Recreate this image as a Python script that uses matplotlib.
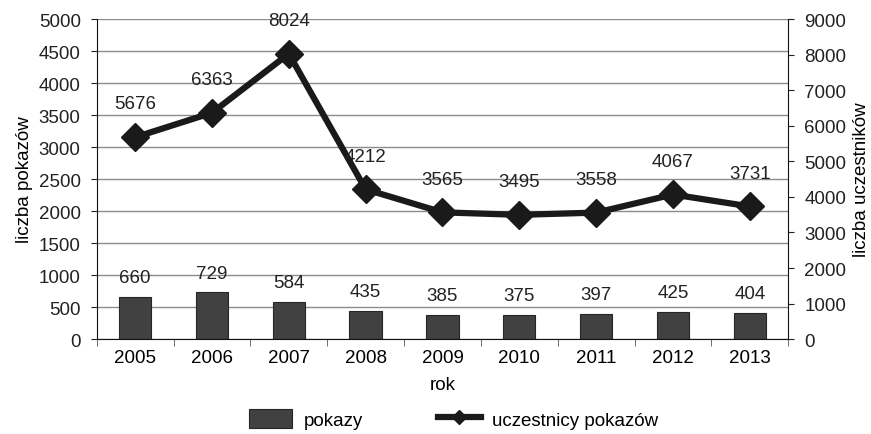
import numpy as np
import matplotlib.pyplot as plt
from matplotlib.lines import Line2D

plt.rcParams['font.family'] = ['Liberation Sans', 'DejaVu Sans']
plt.rcParams['font.size'] = 13.5

years = ['2005', '2006', '2007', '2008', '2009', '2010', '2011', '2012', '2013']
pokazy = [660, 729, 584, 435, 385, 375, 397, 425, 404]
uczestnicy = [5676, 6363, 8024, 4212, 3565, 3495, 3558, 4067, 3731]

x = np.arange(len(years))

fig = plt.figure(figsize=(8.71, 4.35), dpi=100)
ax = fig.add_axes([0.111, 0.218, 0.794, 0.736])
ax2 = ax.twinx()

# bars on the left axis
ax.set_axisbelow(True)
ax.yaxis.grid(True, color='#8c8c8c', linewidth=1)
bars = ax.bar(x, pokazy, width=0.42, color='#414141', edgecolor='#262626',
              linewidth=0.8, label='pokazy', zorder=2)
for xi, v in zip(x, pokazy):
    ax.annotate(str(v), (xi, v), xytext=(0, 14), textcoords='offset points',
                ha='center', va='center', color='#222222')

ax.set_xlim(-0.5, len(years) - 0.5)
ax.set_ylim(0, 5000)
ax.set_yticks(np.arange(0, 5001, 500))
ax.set_xticks(x)
ax.set_xticklabels(years)
ax.set_xticks(np.arange(-0.5, len(years)), minor=True)
ax.tick_params(axis='x', which='major', length=0, pad=7)
ax.tick_params(axis='x', which='minor', length=5, color='#555555')
ax.tick_params(axis='y', length=4.5, pad=7, colors='#222222')
ax.set_xlabel('rok', labelpad=7)
ax.set_ylabel('liczba pokazów', labelpad=4)

# line on the right axis
line, = ax2.plot(x, uczestnicy, color='#1a1a1a', linewidth=4.5, marker='D',
                 markersize=14, label='uczestnicy pokazów', zorder=3)
for xi, v in zip(x, uczestnicy):
    ax2.annotate(str(v), (xi, v), xytext=(0, 24), textcoords='offset points',
                 ha='center', va='center', color='#222222')
ax2.set_ylim(0, 9000)
ax2.set_yticks(np.arange(0, 9001, 1000))
ax2.tick_params(axis='y', length=4.5, pad=7, colors='#222222')
ax2.set_ylabel('liczba uczestników', rotation=90, labelpad=5)

for a in (ax, ax2):
    a.spines['top'].set_visible(False)
    a.spines['left'].set_color('#111111')
    a.spines['right'].set_color('#111111')
    a.spines['bottom'].set_color('#111111')
ax2.spines['left'].set_visible(False)
ax2.spines['bottom'].set_visible(False)
ax.spines['right'].set_visible(False)

legend_line = Line2D([], [], color='#1a1a1a', linewidth=4.5, marker='D',
                     markersize=7)
fig.legend([bars, legend_line], ['pokazy', 'uczestnicy pokazów'],
           loc='center', bbox_to_anchor=(0.521, 0.035), ncol=2,
           frameon=False, handlelength=2.3, handleheight=1.2,
           columnspacing=4.0, handletextpad=0.6)

fig.savefig('out.png', dpi=100)
